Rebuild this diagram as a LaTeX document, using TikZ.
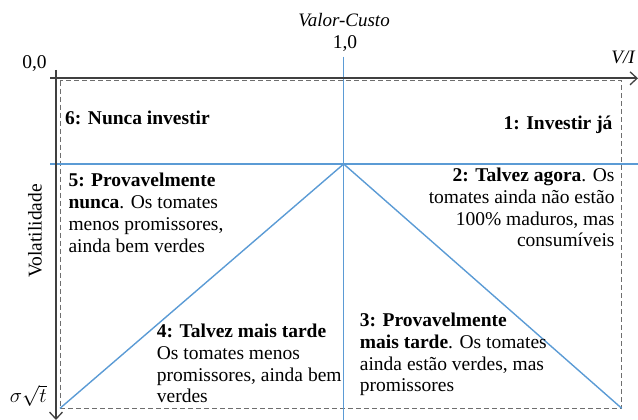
\documentclass[tikz,border=0pt]{standalone}
\usepackage{fontspec}
\setmainfont{Liberation Serif}
\usetikzlibrary{arrows.meta}
\definecolor{lineblue}{RGB}{91,155,213}
\definecolor{axisgray}{RGB}{64,64,64}
\definecolor{dashgray}{RGB}{110,110,110}
\begin{document}
\begin{tikzpicture}[x=1pt,y=1pt,
  txt/.style={inner sep=0pt, font=\fontsize{19.5}{21.7}\selectfont},
  lw/.style={txt, anchor=base west},
  le/.style={txt, anchor=base east},
  axisline/.style={draw=axisgray, line width=1.8pt, -{Straight Barb[length=7pt,width=13pt,line width=1.3pt]}},
  blueline/.style={draw=lineblue, line width=1.4pt},
  frame/.style={draw=dashgray, line width=0.9pt, dash pattern=on 5pt off 3pt}]
\useasboundingbox (0,0) rectangle (638,420);
% coordinates
\coordinate (fTL) at (60,339.3);
\coordinate (fBR) at (621.7,11.7);
\coordinate (fBL) at (60,11.7);
\coordinate (apex) at (343.7,256);
\coordinate (vTop) at (343.7,363.3);
\coordinate (vBot) at (343.7,0);
\coordinate (hL) at (50,256);
\coordinate (hR) at (638,256);
\coordinate (xS) at (50,341.7);
\coordinate (xE) at (638,341.7);
\coordinate (yS) at (56,350);
\coordinate (yE) at (56,0);
% dashed frame
\draw[frame] (fTL) rectangle (fBR);
% blue lines
\draw[blueline] (vTop) -- (vBot);
\draw[blueline] (hL) -- (hR);
\draw[blueline] (fBL) -- (apex) -- (fBR);
% axes
\draw[axisline] (xS) -- (xE);
\draw[axisline] (yS) -- (yE);
% labels
\node[txt, anchor=base, font=\fontsize{19}{21}\selectfont\itshape] (vc) at (344,393.3) {Valor-Custo};
\node[txt, anchor=base] (one) at (345,371.7) {1,0};
\node[txt, anchor=base] (zero) at (34.5,351.7) {0,0};
\node[txt, anchor=base, font=\fontsize{19}{21}\selectfont\itshape] (vi) at (623,356) {V/I};
\node[txt, rotate=90] (vol) at (35,189) {Volatilidade};
\node[txt, anchor=base] (sig) at (28.3,17) {$\sigma\sqrt{t}$};
% quadrant 6 and 1
\node[lw] (q6) at (65,295) {\textbf{6: Nunca investir}};
\node[le] (q1) at (612.7,290.7) {\textbf{1: Investir já}};
% quadrant 5
\node[lw] (q5a) at (68.3,233) {\textbf{5: Provavelmente}};
\node[lw] (q5b) at (68.3,211.3) {\textbf{nunca}. Os tomates};
\node[lw] (q5c) at (68.3,189.6) {menos promissores,};
\node[lw] (q5d) at (68.3,167.9) {ainda bem verdes};
% quadrant 2
\node[le] (q2a) at (614.7,238.3) {\textbf{2: Talvez agora}. Os};
\node[le] (q2b) at (614.7,216.6) {tomates ainda não estão};
\node[le] (q2c) at (614.7,194.9) {100\% maduros, mas};
\node[le] (q2d) at (614.7,173.2) {consumíveis};
% quadrant 4
\node[lw] (q4a) at (156.7,82.3) {\textbf{4: Talvez mais tarde}};
\node[lw] (q4b) at (156.7,60.6) {Os tomates menos};
\node[lw] (q4c) at (156.7,38.9) {promissores, ainda bem};
\node[lw] (q4d) at (156.7,17.2) {verdes};
% quadrant 3
\node[lw] (q3a) at (359.7,93.3) {\textbf{3: Provavelmente}};
\node[lw] (q3b) at (359.7,71.6) {\textbf{mais tarde}. Os tomates};
\node[lw] (q3c) at (359.7,49.9) {ainda estão verdes, mas};
\node[lw] (q3d) at (359.7,28.2) {promissores};
\end{tikzpicture}
\end{document}
